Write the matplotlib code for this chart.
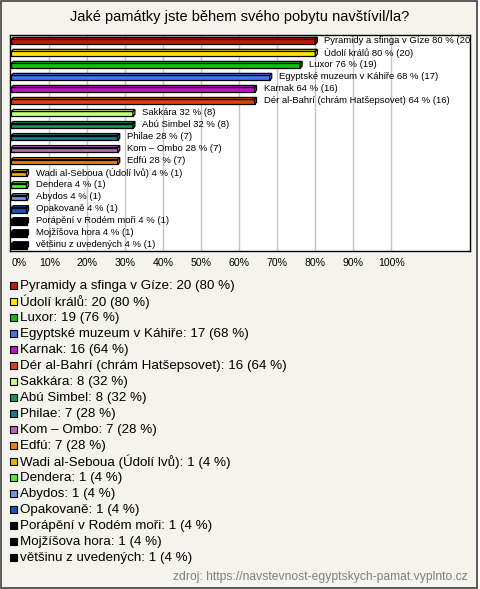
import matplotlib
matplotlib.use("Agg")
import matplotlib.pyplot as plt
from matplotlib.patches import Polygon, Rectangle

plt.rcParams['font.family'] = ['Liberation Sans', 'DejaVu Sans']

# data
names = ["Pyramidy a sfinga v Gíze", "Údolí králů", "Luxor", "Egyptské muzeum v Káhiře",
         "Karnak", "Dér al-Bahrí (chrám Hatšepsovet)", "Sakkára", "Abú Simbel", "Philae",
         "Kom – Ombo", "Edfú", "Wadi al-Seboua (Údolí lvů)", "Dendera", "Abydos",
         "Opakovaně", "Porápění v Rodém moři", "Mojžíšova hora", "většinu z uvedených"]
counts = [20, 20, 19, 17, 16, 16, 8, 8, 7, 7, 7, 1, 1, 1, 1, 1, 1, 1]
total = 25
colors = ["#c01c00", "#ffe800", "#10c010", "#4a70f0", "#c010d0", "#e04010",
          "#c8ff80", "#109858", "#207890", "#c060c0", "#f08000", "#e8b000",
          "#50f030", "#7098e0", "#2050c0", "#000000", "#000000", "#000000"]
xticks = [0, 10, 20, 30, 40, 50, 60, 70, 80, 90, 100]
title = "Jaké památky jste během svého pobytu navštívil/la?"
source = "zdroj: https://navstevnost-egyptskych-pamat.vyplnto.cz"

pcts = [c * 100 / total for c in counts]

W, H = 480, 589
fig = plt.figure(figsize=(W / 100, H / 100), dpi=100)
fig.patch.set_facecolor("white")

# beige frame with dark border
fig.patches.append(Rectangle((0.5 / W, 1 - 587.5 / H), 476.5 / W, 587 / H,
                             transform=fig.transFigure, facecolor="#f4f3ec",
                             edgecolor="#404040", linewidth=1.2, zorder=-5))

fig.text(240 / W, 1 - 17 / H, title, ha="center", va="center", fontsize=10.5)

ax = fig.add_axes([10 / W, 1 - 251 / H, 460 / W, 216.5 / H])
ax.set_zorder(5)
ax.set_facecolor("white")
n = len(names)
px_x = 100 / 380.0
ax.set_xlim(-1.3 * px_x, 458.7 * px_x)
ax.set_ylim(n - 0.5, -0.5)
for s in ax.spines.values():
    s.set_color("black")
    s.set_linewidth(1)
for t in xticks[1:]:
    ax.axvline(t, color="#c4c4c4", linewidth=1, zorder=0)
ax.set_xticks([])
ax.set_yticks([])

# 3d-ish bars
dx = 2 * px_x
dy = 2 / 12.0
hf = 0.4
for i, (v, c) in enumerate(zip(pcts, colors)):
    yb = i + 0.3
    yt = yb - hf
    ax.add_patch(Rectangle((0, yt), v, hf, facecolor=c, edgecolor="black", linewidth=0.9, zorder=3))
    ax.add_patch(Polygon([(0, yt), (v, yt), (v + dx, yt - dy), (dx, yt - dy)],
                         closed=True, facecolor=c, edgecolor="black", linewidth=0.9, zorder=3))
    ax.add_patch(Polygon([(v, yt), (v, yb), (v + dx, yb - dy), (v + dx, yt - dy)],
                         closed=True, facecolor=c, edgecolor="black", linewidth=0.9, zorder=3))
    ax.text(v + 9 * px_x, i, f"{names[i]} {pcts[i]:.0f} % ({counts[i]})",
            ha="left", va="center", fontsize=6.8, clip_on=True, zorder=4)

# tick labels below the plot
for t in xticks:
    ax.text(t, n - 0.5 + 12 / 12.0, f"{t}%", ha="left" if t == 0 else "center",
            va="center", fontsize=7.6, clip_on=False)

# legend
for i, (name, c) in enumerate(zip(names, colors)):
    yc = 285.7 + 16 * i
    fig.patches.append(Rectangle((9.5 / W, 1 - (yc + 3.5) / H), 7 / W, 7 / H,
                                 transform=fig.transFigure, facecolor=c,
                                 edgecolor="black", linewidth=0.8, zorder=2))
    fig.text(20.5 / W, 1 - yc / H, f"{name}: {counts[i]} ({pcts[i]:.0f} %)",
             ha="left", va="center", fontsize=9.6)

fig.text(468 / W, 1 - 577 / H, source, ha="right", va="center",
         fontsize=8.7, color="#808080")

fig.savefig("out.png", dpi=100, facecolor=fig.get_facecolor())
